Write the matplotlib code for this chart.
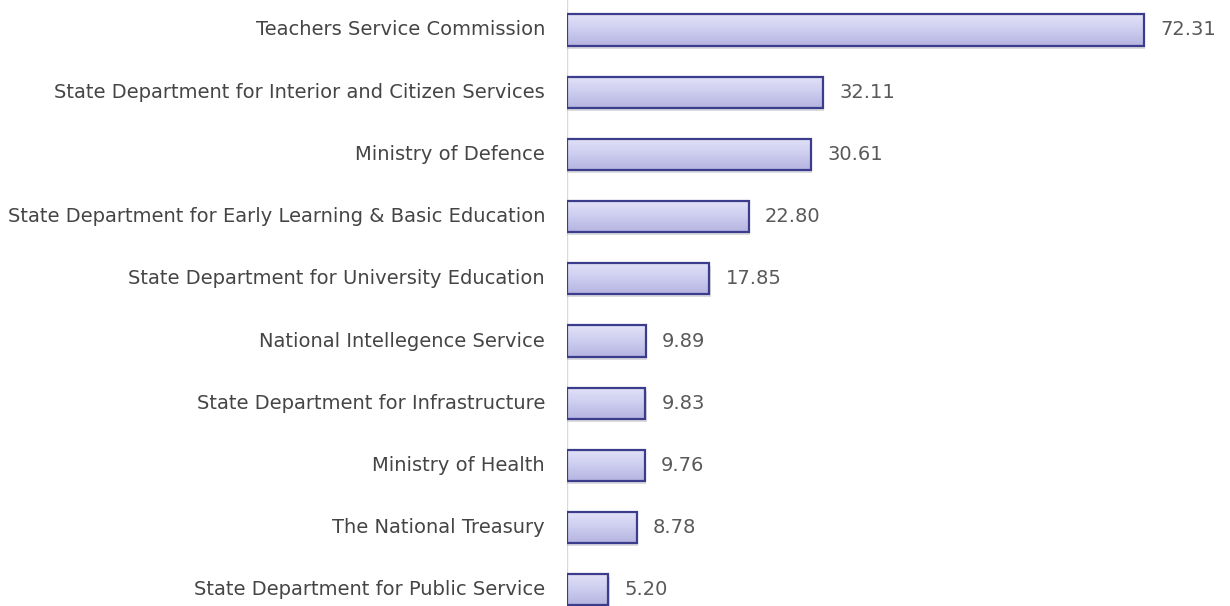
import numpy as np
import matplotlib
matplotlib.use("Agg")
from matplotlib import pyplot as plt
from matplotlib.patches import Rectangle

departments = [
    "Teachers Service Commission",
    "State Department for Interior and Citizen Services",
    "Ministry of Defence",
    "State Department for Early Learning & Basic Education",
    "State Department for University Education",
    "National Intellegence Service",
    "State Department for Infrastructure",
    "Ministry of Health",
    "The National Treasury",
    "State Department for Public Service",
]
values = [72.31, 32.11, 30.61, 22.80, 17.85, 9.89, 9.83, 9.76, 8.78, 5.20]

plt.rcParams['font.family'] = ['DejaVu Sans']

fig = plt.figure(figsize=(12.3, 6.06), dpi=100)
ax = fig.add_axes([567 / 1230, 0, 1 - 567 / 1230, 1])

px_per_unit = 577 / 72.31
bar_h = 0.5
ypos = np.arange(len(values))

# vertical gradient for the bar face
grad = np.linspace(0, 1, 64).reshape(-1, 1)
cmap = matplotlib.colors.LinearSegmentedColormap.from_list(
    "lav", ["#e2e2f8", "#cdcdf0", "#b4b4e0"])

for y, v in zip(ypos, values):
    # soft shadow under the bar
    ax.add_patch(Rectangle((0, y - bar_h / 2 + 0.05), v + 0.15, bar_h,
                           facecolor="#9a9aa8", edgecolor="none", alpha=0.35, zorder=1))
    im = ax.imshow(grad, cmap=cmap, aspect="auto", zorder=2,
                   extent=(0, v, y + bar_h / 2, y - bar_h / 2))
    rect = Rectangle((0, y - bar_h / 2), v, bar_h, facecolor="none",
                     edgecolor="#3c3c8c", linewidth=1.6, zorder=3)
    ax.add_patch(rect)
    im.set_clip_path(rect)
    ax.text(v + 16 / px_per_unit, y, f"{v:.2f}", va="center", ha="left",
            fontsize=14, color="#595959")
    ax.text(-22 / px_per_unit, y, departments[y], va="center", ha="right",
            fontsize=14, color="#454545", clip_on=False)

ax.set_xlim(0, (1230 - 567) / px_per_unit)
ax.set_ylim(9.26, -0.482)
ax.axvline(0, color="#d9d9d9", linewidth=1, zorder=0)
ax.axis("off")

fig.savefig("out.png", dpi=100)
